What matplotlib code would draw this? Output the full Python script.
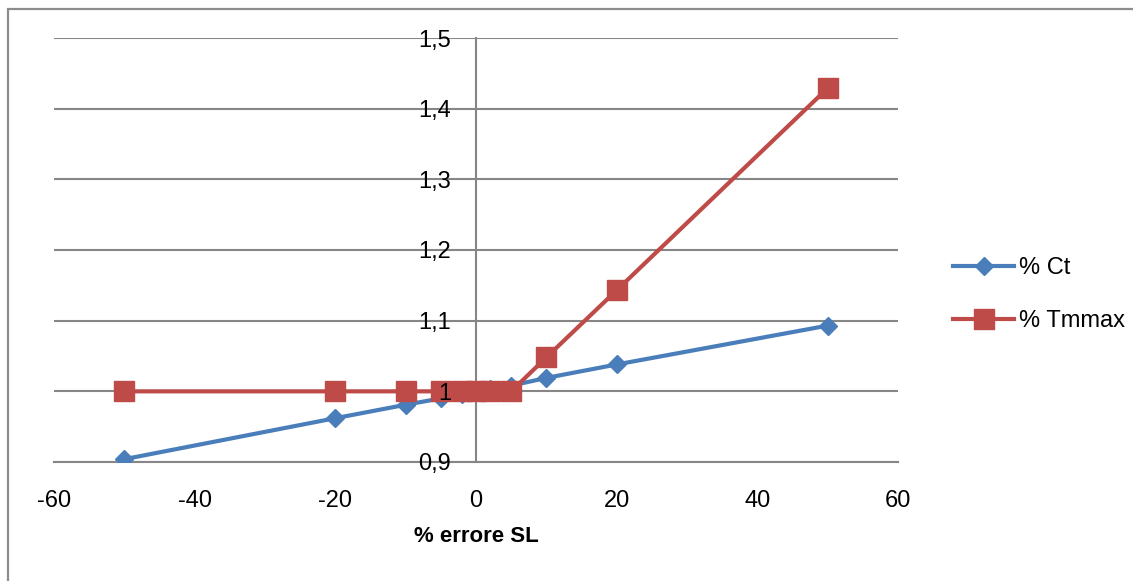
import matplotlib
matplotlib.use("Agg")
import matplotlib.pyplot as plt
from matplotlib.patches import Rectangle
from matplotlib.ticker import FuncFormatter, MultipleLocator

plt.rcParams['font.family'] = ['Liberation Sans Narrow', 'Liberation Sans', 'DejaVu Sans']

# Percentage error on SL and the resulting relative values
errore_sl = [-50, -20, -10, -5, -2, 0, 2, 5, 10, 20, 50]
ct = [0.904, 0.962, 0.981, 0.990, 0.996, 1.000, 1.004, 1.008, 1.019, 1.038, 1.093]
tmmax = [1.000, 1.000, 1.000, 1.000, 1.000, 1.000, 1.000, 1.000, 1.048, 1.143, 1.429]

series_labels = ['% Ct', '% Tmmax']
x_label = '% errore SL'

W, H = 1133, 581
fig = plt.figure(figsize=(W / 100, H / 100), dpi=100)
ax = fig.add_axes([54 / W, 1 - 462 / H, (898 - 54) / W, (462 - 38) / H])

grid_col = '#868686'
blue = '#4a7ebb'
red = '#be4b48'

ax.plot(errore_sl, ct, color=blue, lw=3, marker='D', ms=9.5, label=series_labels[0], zorder=3)
ax.plot(errore_sl, tmmax, color=red, lw=3, marker='s', ms=14, label=series_labels[1], zorder=4)

ax.set_xlim(-60, 60)
ax.set_ylim(0.9, 1.5)
ax.xaxis.set_major_locator(MultipleLocator(20))
ax.yaxis.set_major_locator(MultipleLocator(0.1))


def y_fmt(v, pos):
    if abs(v - round(v)) < 1e-9:
        return f'{v:.0f}'
    return f'{v:.1f}'.replace('.', ',')


ax.yaxis.set_major_formatter(FuncFormatter(y_fmt))
ax.xaxis.set_major_formatter(FuncFormatter(lambda v, p: f'{v:.0f}'))

# horizontal gridlines kept beneath the series
for yv in [0.9, 1.0, 1.1, 1.2, 1.3, 1.4, 1.5]:
    ax.axhline(yv, color=grid_col, lw=1.5, zorder=1)

for s in ['top', 'right']:
    ax.spines[s].set_visible(False)
ax.spines['left'].set_position(('data', 0))
ax.spines['left'].set_color(grid_col)
ax.spines['left'].set_linewidth(1.5)
ax.spines['left'].set_zorder(1)
ax.spines['bottom'].set_color(grid_col)
ax.spines['bottom'].set_linewidth(1.5)
ax.spines['bottom'].set_zorder(1)

ax.tick_params(axis='both', length=0, labelsize=17, colors='black')
ax.tick_params(axis='y', pad=18)
ax.tick_params(axis='x', pad=20)
# y tick labels sit on top of the markers
ax.yaxis.set_zorder(6)

ax.set_xlabel(x_label, fontsize=16, fontweight='bold', labelpad=10)

leg = ax.legend(loc='center left', bbox_to_anchor=(1.04, 0.395), frameon=False,
                fontsize=17, handlelength=2.6, labelspacing=1.3, handletextpad=0.2)

# chart frame
fig.patches.append(Rectangle((8 / W, -0.1), 1.2, 1 - 9 / H + 0.1, transform=fig.transFigure,
                             fill=False, edgecolor='#8c8c8c', lw=1.6))

fig.savefig('out.png', dpi=100, facecolor='white')
